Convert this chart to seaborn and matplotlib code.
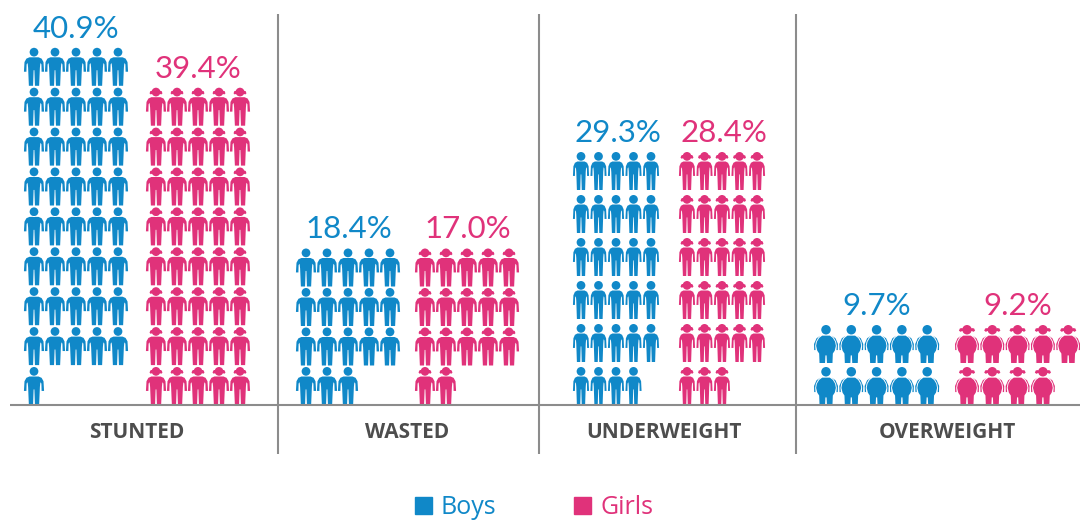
import math
import matplotlib
matplotlib.use("Agg")
import matplotlib.pyplot as plt
import numpy as np
import pandas as pd
import seaborn as sns
from matplotlib.patches import Patch
from matplotlib.path import Path

# Chart values
categories = ["STUNTED", "WASTED", "UNDERWEIGHT", "OVERWEIGHT"]
boys_pct = [40.9, 18.4, 29.3, 9.7]
girls_pct = [39.4, 17.0, 28.4, 9.2]
boys_icons = [41, 18, 29, 10]
girls_icons = [40, 17, 28, 9]

# Layout, in reference pixels
BLUE = "#1088c8"
PINK = "#e0327a"
LINE = "#8c8c8c"
boys_start = [34, 306, 581, 826]
girls_start = [156, 425, 687, 967]
col_pitch = [21, 21, 17.5, 25.3]
row_pitch = [39.9, 39.5, 43, 42]
label_x = [137, 407, 664, 947]
pct_shift = [0, 1, 2, 0]
dividers = [278, 539, 796]
BASE_Y = 405
ICON_H = 38

sns.set_theme(style="white")
plt.rcParams["font.family"] = ["Open Sans", "DejaVu Sans"]

SLIM = [(0, 0.5), (0.24, 0.5), (0.4, 0.43), (0.5, 0.25), (0.53, -0.26), (0.4, -0.26),
        (0.39, 0.12), (0.35, 0.2), (0.33, 0.14), (0.31, -0.05), (0.27, -1), (0.05, -1),
        (0.02, -0.18), (0, -0.18)]
FAT = [(0, 0.44), (0.2, 0.44), (0.36, 0.32), (0.48, 0.12), (0.52, -0.1), (0.46, -0.35),
       (0.36, -0.5), (0.34, -1), (0.05, -1), (0.03, -0.6), (0, -0.6)]
FAT_ARM = [(0.3, 0.44), (0.5, 0.3), (0.63, 0), (0.62, -0.32), (0.55, -0.32),
           (0.57, -0.1), (0.53, 0.12), (0.41, 0.34)]
HAIR = [(0.18, 0.7), (0.27, 0.64), (0.34, 0.7), (0.3, 0.82), (0.2, 0.84)]


def closed(points):
    points = list(points)
    codes = [Path.MOVETO] + [Path.LINETO] * (len(points) - 1) + [Path.CLOSEPOLY]
    return Path(points + [points[0]], codes)


def make_icon(fat=False, girl=False, stretch=1.0):
    half = FAT if fat else SLIM
    body = [(x * stretch, y) for x, y in half]
    body = body + [(-x, y) for x, y in reversed(body)]
    head_r = 0.25 if fat else 0.23
    parts = [Path.circle((0, 1 - head_r), head_r), closed(body)]
    if fat:
        parts.append(closed(FAT_ARM))
        parts.append(closed([(-x, y) for x, y in reversed(FAT_ARM)]))
    if girl:
        hair = [(x * (1.25 if fat else 1.0), y) for x, y in HAIR]
        parts.append(closed(hair))
        parts.append(closed([(-x, y) for x, y in reversed(hair)]))
    return Path.make_compound_path(*parts)


def icon_table(count, start, pitch_x, pitch_y):
    nrows = math.ceil(count / 5)
    rows = []
    for i in range(count):
        row, col = divmod(i, 5)
        rows.append({"x": start + col * pitch_x,
                     "y": BASE_Y - ICON_H / 2 - (nrows - 1 - row) * pitch_y})
    return pd.DataFrame(rows)


fig, ax = plt.subplots(figsize=(10.8, 5.2), dpi=100)
ax.set_position([0, 0, 1, 1])

# pt^2 of a marker whose full height is ICON_H pixels
icon_size = (ICON_H * 72 / 100) ** 2
stretches = [1.0, 1.0, 0.8, 1.0]

for i, cat in enumerate(categories):
    fat = cat == "OVERWEIGHT"
    groups = [(boys_icons[i], boys_start[i], boys_pct[i], BLUE, False),
              (girls_icons[i], girls_start[i], girls_pct[i], PINK, True)]
    for count, start, pct, color, girl in groups:
        icons = icon_table(count, start, col_pitch[i], row_pitch[i])
        sns.scatterplot(data=icons, x="x", y="y", ax=ax, color=color, s=icon_size,
                        marker=make_icon(fat, girl, stretches[i]),
                        edgecolor="none", linewidth=0, legend=False, clip_on=False)
        ax.text(start + 2 * col_pitch[i] + pct_shift[i], icons["y"].min() - ICON_H / 2 - 10,
                f"{pct:.1f}%", color=color, fontsize=22.5, family=["Lato", "DejaVu Sans"],
                ha="center", va="baseline")
    ax.text(label_x[i], 432, cat, color="#4d4d4d", fontsize=15, fontweight="bold",
            ha="center", va="center")

ax.hlines(BASE_Y, 10, 1080, color=LINE, linewidth=1.5)
ax.vlines(dividers, 14, 454, color=LINE, linewidth=1.5)

handles = [Patch(color=BLUE, label="Boys"), Patch(color=PINK, label="Girls")]
ax.legend(handles=handles, loc="center", bbox_to_anchor=(534, 508),
          bbox_transform=ax.transData, ncol=2, frameon=False, fontsize=18,
          labelcolor=[BLUE, PINK], handlelength=0.68, handleheight=0.68,
          handletextpad=0.36, columnspacing=3.1)

ax.set_xlim(0, 1080)
ax.set_ylim(520, 0)
ax.set_xlabel("")
ax.set_ylabel("")
ax.axis("off")

fig.savefig("out.png", dpi=100)
plt.close(fig)
